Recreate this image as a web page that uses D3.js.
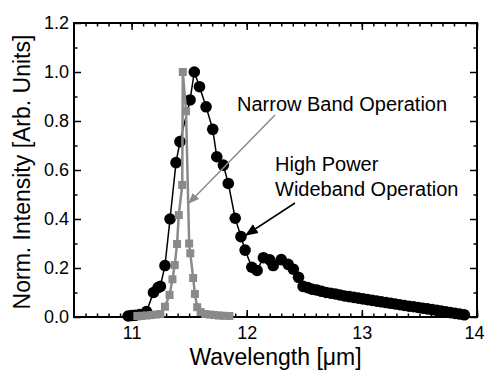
<!DOCTYPE html>
<html>
<head>
<meta charset="utf-8">
<script src="https://cdn.jsdelivr.net/npm/d3@7/dist/d3.min.js"></script>
<style>
	body { margin: 0; background: #fff; }
	text { font-family: "Liberation Sans", Arial, sans-serif; fill: #000; }
</style>
</head>
<body>
<div id="chart"></div>
<script>
	// narrow band operation (gray squares)
	var narrowX = [11.05, 11.09, 11.13, 11.17, 11.21, 11.25, 11.29, 11.33, 11.355, 11.375, 11.395, 11.41, 11.44, 11.445,
		11.473, 11.50, 11.51, 11.535, 11.55, 11.57, 11.60, 11.64, 11.68, 11.72, 11.76, 11.80, 11.85];
	var narrowY = [0.004, 0.005, 0.006, 0.008, 0.01, 0.012, 0.042, 0.09, 0.154, 0.212, 0.298, 0.416, 0.539, 1.0,
		0.84, 0.30, 0.26, 0.159, 0.094, 0.04, 0.02, 0.012, 0.01, 0.008, 0.006, 0.005, 0.004];

	// high power wideband operation (black circles)
	var wideX = [10.97, 11.0, 11.03, 11.07, 11.13, 11.19, 11.23, 11.25, 11.29, 11.334, 11.386, 11.42, 11.508, 11.545,
		11.59, 11.647, 11.705, 11.74, 11.797, 11.84, 11.90, 11.95, 11.986, 12.044, 12.09, 12.145, 12.20, 12.23,
		12.30, 12.36, 12.405, 12.45, 12.49, 12.53, 12.57, 12.61, 12.65, 12.69, 12.73, 12.77, 12.81, 12.85, 12.89,
		12.93, 12.97, 13.01, 13.05, 13.09, 13.13, 13.17, 13.21, 13.25, 13.29, 13.33, 13.37, 13.41, 13.45, 13.49,
		13.53, 13.57, 13.61, 13.65, 13.69, 13.73, 13.77, 13.81, 13.85, 13.89];
	var wideY = [0.004, 0.006, 0.007, 0.01, 0.022, 0.10, 0.12, 0.125, 0.21, 0.40, 0.63, 0.716, 0.886, 1.0,
		0.94, 0.858, 0.766, 0.654, 0.62, 0.545, 0.403, 0.328, 0.273, 0.203, 0.19, 0.242, 0.233, 0.21,
		0.234, 0.215, 0.195, 0.162, 0.125, 0.120, 0.113, 0.110, 0.105, 0.100, 0.097, 0.094, 0.090, 0.086, 0.083,
		0.080, 0.077, 0.074, 0.071, 0.068, 0.065, 0.062, 0.059, 0.056, 0.053, 0.050, 0.047, 0.044, 0.042, 0.039,
		0.036, 0.033, 0.030, 0.027, 0.024, 0.021, 0.018, 0.015, 0.012, 0.009];

	var xTicks = [11, 12, 13, 14];
	var yTicks = [0.0, 0.2, 0.4, 0.6, 0.8, 1.0, 1.2];

	var W = 485, H = 371;
	var margin = {top: 23, right: 8, bottom: 54, left: 74};
	var width = W - margin.left - margin.right,
		height = H - margin.top - margin.bottom;

	var svg = d3.select("#chart").append("svg")
		.attr("width", W).attr("height", H);
	var g = svg.append("g")
		.attr("transform", "translate(" + margin.left + "," + margin.top + ")");

	var x = d3.scaleLinear().domain([10.5, 14]).range([0, width]);
	var y = d3.scaleLinear().domain([0, 1.2]).range([height, 0]);

	var xMinor = d3.range(106, 141).map(function(d) { return d / 10; });
	var yMinor = d3.range(1, 12, 2).map(function(d) { return d / 10; });

	function styleAxis(sel) {
		sel.select(".domain").remove();
		sel.selectAll("line").attr("stroke", "#000").attr("stroke-width", 1.5);
		sel.selectAll("text").style("font-size", "18px").attr("fill", "#000");
	}

	// bottom
	g.append("g").attr("transform", "translate(0," + height + ")")
		.call(d3.axisBottom(x).tickValues(xMinor).tickSize(-3.5).tickFormat(""))
		.call(styleAxis);
	var xAx = g.append("g").attr("transform", "translate(0," + height + ")")
		.call(d3.axisBottom(x).tickValues(xTicks).tickSize(-7).tickPadding(9).tickFormat(d3.format("d")))
		.call(styleAxis);
	// last label sits at the page edge
	xAx.selectAll(".tick text").filter(function(d) { return d === 14; })
		.attr("text-anchor", "end").attr("x", W - 1 - margin.left - x(14));
	// top
	g.append("g")
		.call(d3.axisTop(x).tickValues(xMinor).tickSize(-3.5).tickFormat(""))
		.call(styleAxis);
	g.append("g")
		.call(d3.axisTop(x).tickValues(xTicks).tickSize(-7).tickFormat(""))
		.call(styleAxis);
	// left
	g.append("g")
		.call(d3.axisLeft(y).tickValues(yMinor).tickSize(-3.5).tickFormat(""))
		.call(styleAxis);
	g.append("g")
		.call(d3.axisLeft(y).tickValues(yTicks).tickSize(-7).tickPadding(5).tickFormat(d3.format(".1f")))
		.call(styleAxis);
	// right
	g.append("g").attr("transform", "translate(" + width + ",0)")
		.call(d3.axisRight(y).tickValues(yMinor).tickSize(-3.5).tickFormat(""))
		.call(styleAxis);
	g.append("g").attr("transform", "translate(" + width + ",0)")
		.call(d3.axisRight(y).tickValues(yTicks).tickSize(-7).tickFormat(""))
		.call(styleAxis);

	g.append("rect").attr("width", width).attr("height", height)
		.attr("fill", "none").attr("stroke", "#000").attr("stroke-width", 2);

	var line = d3.line().x(function(d) { return x(d[0]); }).y(function(d) { return y(d[1]); });

	var wide = wideX.map(function(v, i) { return [v, wideY[i]]; });
	var narrow = narrowX.map(function(v, i) { return [v, narrowY[i]]; });

	g.append("path").datum(wide).attr("d", line)
		.attr("fill", "none").attr("stroke", "#000").attr("stroke-width", 1.5);
	g.selectAll(".dot").data(wide).enter().append("circle")
		.attr("cx", function(d) { return x(d[0]); })
		.attr("cy", function(d) { return y(d[1]); })
		.attr("r", 5.8).attr("fill", "#000");

	g.append("path").datum(narrow).attr("d", line)
		.attr("fill", "none").attr("stroke", "#8a8a8a").attr("stroke-width", 2.5);
	g.selectAll(".sq").data(narrow).enter().append("rect")
		.attr("x", function(d) { return x(d[0]) - 4; })
		.attr("y", function(d) { return y(d[1]) - 4; })
		.attr("width", 8).attr("height", 8).attr("fill", "#8a8a8a");

	// annotations
	svg.append("defs").html(
		'<marker id="hg" viewBox="0 0 10 10" refX="9" refY="5" markerWidth="11" markerHeight="11" orient="auto" markerUnits="userSpaceOnUse">' +
		'<path d="M0,1 L10,5 L0,9 z" fill="#8a8a8a"/></marker>' +
		'<marker id="hb" viewBox="0 0 10 10" refX="9" refY="5" markerWidth="13" markerHeight="13" orient="auto" markerUnits="userSpaceOnUse">' +
		'<path d="M0,1 L10,5 L0,9 z" fill="#000"/></marker>');

	svg.append("line").attr("x1", 275).attr("y1", 115).attr("x2", 189).attr("y2", 203)
		.attr("stroke", "#8a8a8a").attr("stroke-width", 1.5).attr("marker-end", "url(#hg)");
	svg.append("line").attr("x1", 295).attr("y1", 203).attr("x2", 246).attr("y2", 235)
		.attr("stroke", "#000").attr("stroke-width", 1.5).attr("marker-end", "url(#hb)");

	svg.append("text").attr("x", 237).attr("y", 111).style("font-size", "20px").text("Narrow Band Operation");
	svg.append("text").attr("x", 275).attr("y", 171).style("font-size", "20px").text("High Power");
	svg.append("text").attr("x", 275).attr("y", 196).style("font-size", "20px").text("Wideband Operation");

	// axis titles
	svg.append("text").attr("x", margin.left + width / 2).attr("y", 365)
		.attr("text-anchor", "middle").style("font-size", "23px").text("Wavelength [\u03bcm]");
	svg.append("text").attr("transform", "translate(30,172) rotate(-90)")
		.attr("text-anchor", "middle").style("font-size", "23px").text("Norm. Intensity [Arb. Units]");
</script>
</body>
</html>
